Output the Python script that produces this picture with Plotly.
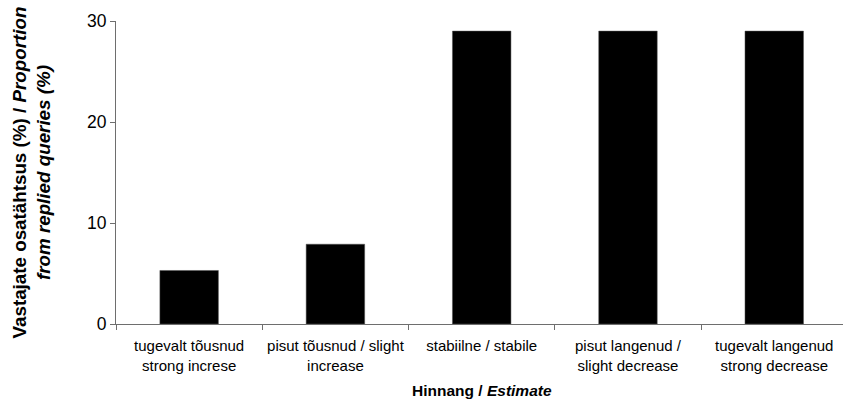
import plotly.graph_objects as go

categories = [
    "tugevalt tõusnud<br>strong increse",
    "pisut tõusnud / slight<br>increase",
    "stabiilne / stabile",
    "pisut langenud /<br>slight decrease",
    "tugevalt langenud<br>strong decrease",
]
values = [5.3, 7.9, 29.0, 29.0, 29.0]
y_ticks = [0, 10, 20, 30]

fig = go.Figure(
    go.Bar(
        x=categories,
        y=values,
        width=0.4,
        marker=dict(color="black", line=dict(color="#555555", width=0.5)),
    )
)

font_family = "Liberation Sans, Arial, sans-serif"
axis_color = "#6e6e6e"
L, R, T, B = 116, 0, 21, 77
W, H = 843, 401
pw = W - L - R
ph = H - T - B

fig.update_layout(
    width=W,
    height=H,
    margin=dict(l=L, r=R, t=T, b=B),
    plot_bgcolor="white",
    paper_bgcolor="white",
    showlegend=False,
    font=dict(family=font_family, color="black"),
    xaxis=dict(
        type="category",
        range=[-0.5, 4.47],
        tickson="boundaries",
        ticks="outside",
        ticklen=5,
        tickcolor=axis_color,
        showline=True,
        linecolor=axis_color,
        linewidth=1,
        showgrid=False,
        automargin=False,
        tickangle=0,
        ticklabelstandoff=8,
        tickfont=dict(size=15),
    ),
    yaxis=dict(
        range=[0, 30],
        tickvals=y_ticks,
        ticks="outside",
        ticklen=5,
        tickcolor=axis_color,
        showline=True,
        linecolor=axis_color,
        linewidth=1,
        showgrid=False,
        zeroline=False,
        automargin=False,
        tickfont=dict(size=17.5),
    ),
    annotations=[
        dict(
            text="<b>Vastajate osatähtsus (%) / <i>Proportion</i></b><br><b><i>from replied queries (%)</i></b>",
            xref="paper", yref="paper",
            x=(31 - L) / pw, y=0.5,
            xanchor="center", yanchor="middle",
            textangle=-90, showarrow=False,
            font=dict(size=18.8),
        ),
        dict(
            text="<b>Hinnang / <i>Estimate</i></b>",
            xref="paper", yref="paper",
            x=(482 - L) / pw, y=(T + ph - 390) / ph,
            xanchor="center", yanchor="middle",
            showarrow=False,
            font=dict(size=15.5),
        ),
    ],
)

fig.write_html(
    "out.html",
    config={"displayModeBar": False},
    post_script="document.body.style.margin='0';document.body.style.overflow='hidden';",
)
